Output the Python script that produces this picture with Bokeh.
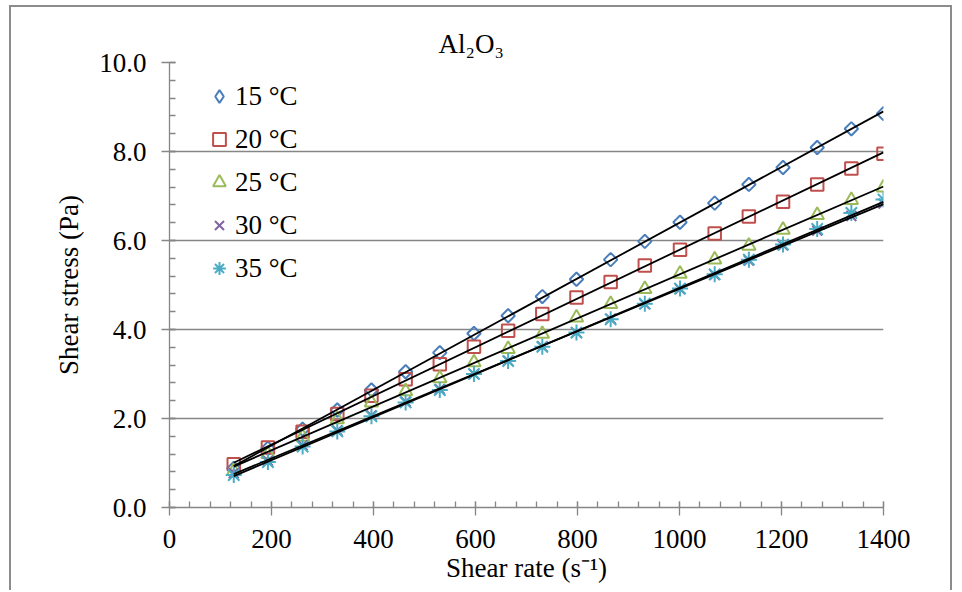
import numpy as np
from bokeh.plotting import figure
from bokeh.models import FixedTicker, PrintfTickFormatter, Legend, LegendItem
from bokeh.embed import file_html
from bokeh.resources import INLINE

# ---- data ----
shear_rate = [126, 193, 261, 329, 396, 463, 530, 597, 664, 731,
              798, 865, 932, 1001, 1069, 1136, 1203, 1270, 1337, 1400]
stress_15 = [0.88, 1.33, 1.76, 2.19, 2.64, 3.05, 3.48, 3.91, 4.31, 4.74,
             5.13, 5.57, 5.98, 6.41, 6.84, 7.26, 7.64, 8.09, 8.51, 8.85]
stress_20 = [0.97, 1.35, 1.70, 2.10, 2.51, 2.88, 3.22, 3.61, 3.97, 4.35,
             4.72, 5.07, 5.44, 5.79, 6.16, 6.54, 6.87, 7.26, 7.62, 7.95]
stress_25 = [0.82, 1.20, 1.59, 1.98, 2.36, 2.61, 2.90, 3.26, 3.56, 3.90,
             4.27, 4.57, 4.91, 5.25, 5.57, 5.88, 6.24, 6.57, 6.91, 7.19]
stress_30 = [0.77, 1.05, 1.40, 1.73, 2.07, 2.38, 2.66, 3.00, 3.30, 3.62,
             3.93, 4.24, 4.57, 4.91, 5.23, 5.55, 5.89, 6.22, 6.55, 6.83]
stress_35 = [0.73, 1.02, 1.37, 1.71, 2.05, 2.36, 2.64, 3.00, 3.29, 3.61,
             3.93, 4.23, 4.58, 4.92, 5.24, 5.57, 5.91, 6.26, 6.62, 6.92]
series_labels = ["15 °C", "20 °C", "25 °C", "30 °C", "35 °C"]
x_ticks = [0, 200, 400, 600, 800, 1000, 1200, 1400]
y_ticks = [0, 2, 4, 6, 8, 10]
title_text = "Al\u2082O\u2083"
x_label = "Shear rate (s\u207b\u00b9)"
y_label = "Shear stress (Pa)"

FONT = "Liberation Serif"
GRAY = "#868686"
FS = "27px"

p = figure(width=943, height=585, x_range=(0, 1400), y_range=(0, 10),
           output_backend="svg", toolbar_location=None,
           min_border_left=158, min_border_right=71,
           min_border_top=55, min_border_bottom=85)
p.margin = (5, 0, 0, 9)
p.styles = {"border-top": "2px solid #8c8c8c", "border-left": "2px solid #8c8c8c",
            "border-right": "2px solid #8c8c8c"}
p.outline_line_color = None
p.background_fill_color = "white"

# title
p.title.text = title_text
p.title.text_font = FONT
p.title.text_font_size = FS
p.title.text_font_style = "normal"
p.title.text_color = "black"
p.title.align = "left"
p.title.offset = 269
p.title.standoff = 8

# axes
p.xaxis.ticker = FixedTicker(ticks=x_ticks, minor_ticks=list(range(0, 1401, 40)))
p.yaxis.ticker = FixedTicker(ticks=y_ticks, minor_ticks=[round(0.4 * i, 1) for i in range(26)])
p.yaxis.formatter = PrintfTickFormatter(format="%.1f")
for ax in (p.xaxis[0], p.yaxis[0]):
    ax.axis_line_color = GRAY
    ax.axis_line_width = 1.3
    ax.major_tick_line_color = GRAY
    ax.minor_tick_line_color = GRAY
    ax.major_tick_line_width = 1.3
    ax.minor_tick_line_width = 1.3
    ax.major_tick_in = 6
    ax.major_tick_out = 8
    ax.minor_tick_in = 6
    ax.minor_tick_out = 0
    ax.major_label_text_font = FONT
    ax.major_label_text_font_size = FS
    ax.major_label_text_color = "black"
    ax.axis_label_text_font = FONT
    ax.axis_label_text_font_size = FS
    ax.axis_label_text_font_style = "normal"
    ax.axis_label_text_color = "black"
p.yaxis.major_label_standoff = 15
p.xaxis.major_label_standoff = 14
p.yaxis.axis_label = y_label
p.yaxis.axis_label_standoff = 12
p.xaxis.axis_label = x_label
p.xaxis.axis_label_standoff = 2

p.xgrid.grid_line_color = None
p.ygrid.ticker = FixedTicker(ticks=y_ticks)
p.ygrid.grid_line_color = GRAY
p.ygrid.grid_line_width = 1.3

# series
series = [stress_15, stress_20, stress_25, stress_30, stress_35]
colors = ["#4A7EBB", "#C0504D", "#9BBB59", "#8064A2", "#4BACC6"]
styles = [
    dict(marker="square", size=9.5, angle=np.pi / 4),
    dict(marker="square", size=12.5),
    dict(marker="triangle", size=13.5),
    dict(marker="x", size=14),
    dict(marker="asterisk", size=16),
]

items = []
for i, (ys, st, col, lab) in enumerate(zip(series, styles, colors, series_labels)):
    r = p.scatter(shear_rate, ys, fill_color=None, line_color=col, line_width=2, **st)
    if i == 0:
        # legend keys are never rotated: use an unrotated diamond key (hidden in the plot)
        r = p.scatter(shear_rate[:1], ys[:1], marker="diamond", fill_color=None,
                      line_color=col, line_width=2, visible=False)
    items.append(LegendItem(label=lab, renderers=[r]))

for ys in series:
    m, b = np.polyfit(shear_rate, ys, 1)
    xs = [shear_rate[0], shear_rate[-1]]
    p.line(xs, [m * v + b for v in xs], line_color="black", line_width=1.8)

legend = Legend(items=items, location=(34, 223), padding=0, margin=0,
                spacing=11, glyph_width=32, glyph_height=32, label_height=32,
                label_standoff=-7, label_text_font=FONT, label_text_font_size=FS,
                label_text_color="black", inactive_fill_alpha=0,
                background_fill_alpha=0, border_line_color=None)
p.add_layout(legend)

open("out.html", "w").write(file_html(p, INLINE))
